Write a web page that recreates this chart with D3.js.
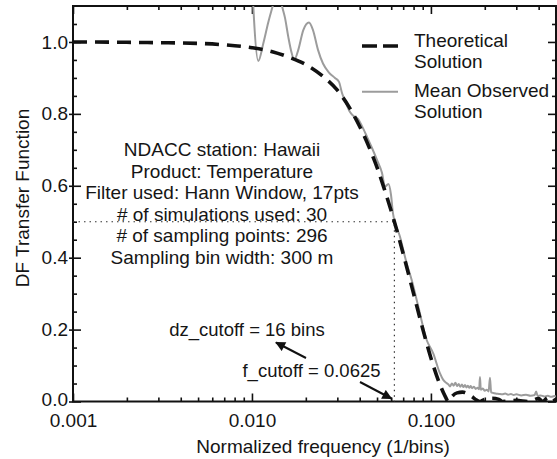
<!DOCTYPE html>
<html>
<head>
<meta charset="utf-8">
<script src="https://cdn.jsdelivr.net/npm/d3@7"></script>
<style>
  body { margin: 0; background: #fff; }
  svg text { font-family: "Liberation Sans", Arial, sans-serif; font-size: 19px; fill: #151515; }
</style>
</head>
<body>
<div id="chart"></div>
<script>
// values
var theoFreq = [0.001, 0.002, 0.003, 0.005, 0.007, 0.01, 0.013, 0.016, 0.02, 0.025, 0.03, 0.035,
  0.04, 0.045, 0.05, 0.055, 0.06, 0.0625, 0.07, 0.08, 0.09, 0.1, 0.11, 0.12, 0.125, 0.13, 0.14,
  0.15, 0.16, 0.17, 0.18, 0.1875, 0.2, 0.22, 0.24, 0.25, 0.3, 0.35, 0.4, 0.42, 0.45, 0.47, 0.5];
var theoVal = [1.0, 0.999, 0.998, 0.996, 0.992, 0.984, 0.973, 0.958, 0.937, 0.904, 0.866, 0.818,
  0.765, 0.709, 0.651, 0.590, 0.530, 0.500, 0.411, 0.300, 0.202, 0.121, 0.059, 0.015, 0.0, 0.012, 0.024,
  0.026, 0.022, 0.013, 0.004, 0.0, 0.006, 0.009, 0.006, 0.0, 0.003, 0.0, 0.008, 0.0, 0.01, 0.0, 0.006];

var obsFreq = [0.00983, 0.01085, 0.01157, 0.01234, 0.01316, 0.01398, 0.01472, 0.0153, 0.01596,
  0.01667, 0.01724, 0.01815, 0.01936, 0.02083, 0.02193, 0.02339, 0.02494, 0.02694, 0.02911, 0.03065,
  0.03185, 0.03353, 0.0353, 0.03717, 0.03913, 0.0412, 0.04395, 0.04686, 0.04996, 0.05327, 0.05538,
  0.05793, 0.05983, 0.06139, 0.06719, 0.07323, 0.07809, 0.08502, 0.0947, 0.103, 0.1124, 0.1172,
  0.1225, 0.125, 0.128, 0.131, 0.134, 0.137, 0.14, 0.143, 0.146, 0.149, 0.152, 0.155, 0.158, 0.161,
  0.164, 0.167, 0.17, 0.174, 0.178, 0.182, 0.186, 0.188, 0.19, 0.195, 0.2, 0.205, 0.21, 0.2138,
  0.217, 0.222, 0.23, 0.24, 0.25, 0.26, 0.27, 0.28, 0.29, 0.3, 0.32, 0.34, 0.36, 0.38, 0.387, 0.395,
  0.41, 0.43, 0.45, 0.47, 0.49, 0.5];
var obsVal = [1.25, 0.947, 0.996, 1.055, 1.106, 1.156, 1.1, 1.067, 1.014,
  0.969, 0.95, 0.978, 1.033, 1.054, 1.033, 0.978, 0.94, 0.915, 0.9, 0.889,
  0.858, 0.83, 0.805, 0.793, 0.786, 0.766, 0.736, 0.705, 0.672, 0.636, 0.598,
  0.605, 0.575, 0.523, 0.458, 0.384, 0.338, 0.264, 0.171, 0.134, 0.078, 0.06,
  0.051, 0.048, 0.042, 0.05, 0.044, 0.052, 0.043, 0.049, 0.041, 0.047, 0.04, 0.046, 0.039, 0.044,
  0.038, 0.043, 0.037, 0.041, 0.035, 0.038, 0.034, 0.068, 0.033, 0.036, 0.03, 0.033, 0.028, 0.066,
  0.026, 0.024, 0.022, 0.021, 0.02, 0.022, 0.019, 0.021, 0.018, 0.02, 0.017, 0.019, 0.016, 0.018, 0.028, 0.015,
  0.017, 0.014, 0.016, 0.013, 0.015, 0.014];

var xMajor = [0.001, 0.01, 0.1];
var yMajor = [0.0, 0.2, 0.4, 0.6, 0.8, 1.0];

var legendLabels = [["Theoretical", "Solution"], ["Mean Observed", "Solution"]];
var infoLines = ["NDACC station: Hawaii", "Product: Temperature", "Filter used: Hann Window, 17pts",
  "# of simulations used: 30", "# of sampling points: 296", "Sampling bin width: 300 m"];
var fCutoff = 0.0625;
var halfPower = 0.5;

// svg set up
var svgWidth = 557;
var svgHeight = 459;
var margin = { top: 6, right: 1, bottom: 57.5, left: 73 };
var width = svgWidth - margin.left - margin.right;
var height = svgHeight - margin.top - margin.bottom;

var svg = d3.select("#chart").append("svg")
  .attr("width", svgWidth)
  .attr("height", svgHeight);

var defs = svg.append("defs");
defs.append("clipPath").attr("id", "plotClip")
  .append("rect").attr("width", width).attr("height", height);
defs.append("marker")
  .attr("id", "head")
  .attr("viewBox", "0 0 10 10")
  .attr("refX", 9).attr("refY", 5)
  .attr("markerWidth", 6).attr("markerHeight", 5)
  .attr("markerUnits", "strokeWidth")
  .attr("orient", "auto")
  .append("path").attr("d", "M0,0L10,5L0,10Z").attr("fill", "#111");

var chartGroup = svg.append("g")
  .attr("transform", `translate(${margin.left}, ${margin.top})`);

// scales
var xScale = d3.scaleLog().domain([0.001, 0.5]).range([0, width]);
var yScale = d3.scaleLinear().domain([0, 1.1]).range([height, 0]);

var xMinor = xScale.ticks().filter(d => xMajor.indexOf(d) < 0);
var yMinor = d3.range(1, 22).map(i => i * 0.05).filter(d => Math.abs(d * 5 - Math.round(d * 5)) > 1e-6);

// axes (ticks inside the frame)
function styleAxis(g) {
  g.select(".domain").remove();
  g.selectAll(".tick line").attr("stroke", "#111").attr("stroke-width", 1.6);
}

chartGroup.append("g")
  .attr("transform", `translate(0, ${height})`)
  .call(d3.axisBottom(xScale).tickValues(xMajor).tickSize(-8).tickPadding(12.5)
    .tickFormat(d3.format(".3f")))
  .call(styleAxis)
  .selectAll("text").style("font-size", "19px").attr("fill", "#151515");

chartGroup.append("g")
  .attr("transform", `translate(0, ${height})`)
  .call(d3.axisBottom(xScale).tickValues(xMinor).tickSize(-4).tickFormat(""))
  .call(styleAxis);

chartGroup.append("g")
  .call(d3.axisTop(xScale).tickValues(xMajor).tickSize(-8).tickFormat(""))
  .call(styleAxis);
chartGroup.append("g")
  .call(d3.axisTop(xScale).tickValues(xMinor).tickSize(-4).tickFormat(""))
  .call(styleAxis);

var leftAxis = chartGroup.append("g")
  .call(d3.axisLeft(yScale).tickValues(yMajor).tickSize(-8).tickPadding(5)
    .tickFormat(d3.format(".1f")))
  .call(styleAxis);
leftAxis.selectAll(".tick line").attr("x1", -4);
leftAxis.selectAll("text").style("font-size", "19px").attr("fill", "#151515");
// the lowest label sits right above the x labels, lift it a touch
leftAxis.selectAll("text").filter(d => d === 0).attr("y", -2);

chartGroup.append("g")
  .call(d3.axisLeft(yScale).tickValues(yMinor).tickSize(-4).tickFormat(""))
  .call(styleAxis);

chartGroup.append("g")
  .attr("transform", `translate(${width}, 0)`)
  .call(d3.axisRight(yScale).tickValues(yMajor).tickSize(-8).tickFormat(""))
  .call(styleAxis);
chartGroup.append("g")
  .attr("transform", `translate(${width}, 0)`)
  .call(d3.axisRight(yScale).tickValues(yMinor).tickSize(-4).tickFormat(""))
  .call(styleAxis);

// frame
chartGroup.append("rect")
  .attr("width", width).attr("height", height)
  .attr("fill", "none").attr("stroke", "#111").attr("stroke-width", 2);

// axis titles
chartGroup.append("text")
  .attr("x", 250).attr("y", height + 51.5)
  .attr("text-anchor", "middle")
  .text("Normalized frequency (1/bins)");

chartGroup.append("text")
  .attr("transform", "rotate(-90)")
  .attr("x", -192).attr("y", 28.5 - margin.left)
  .attr("text-anchor", "middle")
  .text("DF Transfer Function");

// dotted cutoff guides
chartGroup.append("path")
  .attr("d", `M0,${yScale(halfPower)}H${xScale(fCutoff)}V${height}`)
  .attr("fill", "none").attr("stroke", "#333").attr("stroke-width", 1.2)
  .attr("stroke-dasharray", "1.5,4");

// curves
var line = d3.line()
  .x(d => xScale(d[0]))
  .y(d => yScale(d[1]))
  .curve(d3.curveMonotoneX);

var plotArea = chartGroup.append("g").attr("clip-path", "url(#plotClip)");

plotArea.append("path")
  .datum(obsFreq.map((f, i) => [f, obsVal[i]]))
  .attr("d", line)
  .attr("fill", "none").attr("stroke", "#9c9c9c").attr("stroke-width", 2);

plotArea.append("path")
  .datum(theoFreq.map((f, i) => [f, theoVal[i]]))
  .attr("d", line)
  .attr("fill", "none").attr("stroke", "#111").attr("stroke-width", 3.6)
  .attr("stroke-dasharray", "14,8");

// legend
var legend = chartGroup.append("g").attr("transform", "translate(289, 0)");
legend.append("line")
  .attr("x1", 0).attr("x2", 36).attr("y1", 40).attr("y2", 40)
  .attr("stroke", "#111").attr("stroke-width", 3.6).attr("stroke-dasharray", "15,6");
legend.append("line")
  .attr("x1", 0).attr("x2", 36).attr("y1", 85.7).attr("y2", 85.7)
  .attr("stroke", "#9c9c9c").attr("stroke-width", 2);
legendLabels.forEach(function(lines, i) {
  lines.forEach(function(t, j) {
    legend.append("text")
      .attr("x", 52).attr("y", 40.7 + i * 50 + j * 21.6)
      .text(t);
  });
});

// info block
chartGroup.append("g")
  .selectAll("text")
  .data(infoLines)
  .enter()
  .append("text")
  .attr("x", 149).attr("y", (d, i) => 150 + i * 21.5)
  .attr("text-anchor", "middle")
  .text(d => d);

// cutoff annotations
chartGroup.append("text")
  .attr("x", 174).attr("y", 329.5)
  .attr("text-anchor", "middle")
  .style("font-size", "18.5px")
  .text("dz_cutoff = 16 bins");
chartGroup.append("line")
  .attr("x1", 233).attr("y1", 352).attr("x2", 203).attr("y2", 336.5)
  .attr("stroke", "#111").attr("stroke-width", 2).attr("marker-end", "url(#head)");

chartGroup.append("text")
  .attr("x", 238.5).attr("y", 371)
  .attr("text-anchor", "middle")
  .style("font-size", "18.5px")
  .text("f_cutoff = " + fCutoff);
chartGroup.append("line")
  .attr("x1", 287).attr("y1", 376).attr("x2", xScale(fCutoff) - 3).attr("y2", height - 3)
  .attr("stroke", "#111").attr("stroke-width", 2).attr("marker-end", "url(#head)");
</script>
</body>
</html>
